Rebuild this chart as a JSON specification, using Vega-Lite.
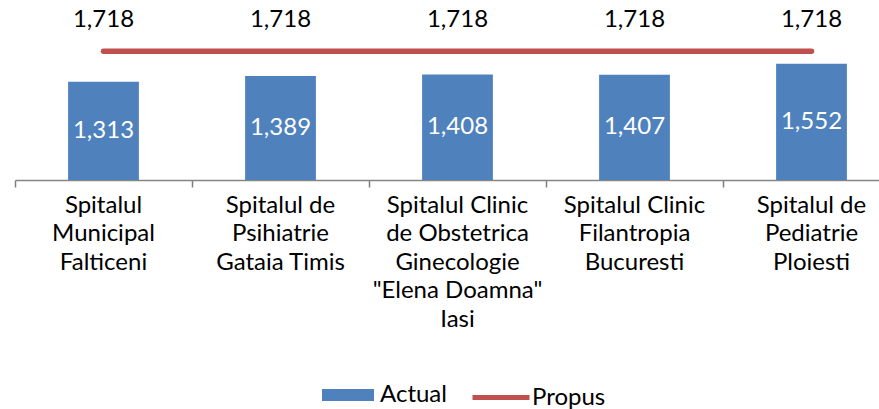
{
  "$schema": "https://vega.github.io/schema/vega-lite/v6.json",
  "width": 864,
  "height": 180,
  "autosize": {"type": "none"},
  "padding": {"left": 15, "top": 0, "right": 0, "bottom": 229},
  "config": {
    "view": {"stroke": null},
    "font": "Lato",
    "axis": {"labelFont": "Lato", "titleFont": "Lato"},
    "legend": {"labelFont": "Lato"}
  },
  "data": {
    "values": [
      {"spital": "Spitalul\nMunicipal\nFalticeni", "actual": 1313, "propus": 1718},
      {"spital": "Spitalul de\nPsihiatrie\nGataia Timis", "actual": 1389, "propus": 1718},
      {"spital": "Spitalul Clinic\nde Obstetrica\nGinecologie\n\"Elena Doamna\"\nIasi", "actual": 1408, "propus": 1718},
      {"spital": "Spitalul Clinic\nFilantropia\nBucuresti", "actual": 1407, "propus": 1718},
      {"spital": "Spitalul de\nPediatrie\nPloiesti", "actual": 1552, "propus": 1718}
    ]
  },
  "layer": [
    {
      "mark": {"type": "bar"},
      "encoding": {
        "x": {
          "field": "spital",
          "type": "nominal",
          "sort": null,
          "scale": {"range": [0, 885], "paddingInner": 0.6, "paddingOuter": 0.3},
          "axis": {
            "orient": "bottom",
            "title": null,
            "labelAngle": 0,
            "labelExpr": "datum.value ? split(datum.value, '\\n') : ''",
            "labelFontSize": 24,
            "labelColor": "#000000",
            "labelLineHeight": 28.5,
            "labelBaseline": "top",
            "labelPadding": 13,
            "labelLimit": 0,
            "ticks": false,
            "domain": false,
            "grid": false
          }
        },
        "y": {"field": "actual", "type": "quantitative", "scale": {"domain": [0, 2404], "nice": false}, "axis": null},
        "fill": {
          "datum": "Actual",
          "scale": {"range": ["#4F81BD"]},
          "legend": {
            "title": null,
            "orient": "none",
            "legendX": 307,
            "legendY": 369,
            "symbolType": "M-1,-0.23H1V0.23H-1Z",
            "symbolSize": 2704,
            "symbolStrokeWidth": 0,
            "labelFontSize": 24,
            "labelColor": "#000000",
            "labelOffset": 6
          }
        }
      }
    },
    {
      "mark": {"type": "line", "strokeWidth": 5.5, "strokeCap": "round"},
      "encoding": {
        "x": {
          "field": "spital",
          "type": "nominal",
          "sort": null,
          "axis": {
            "orient": "bottom",
            "title": null,
            "labels": false,
            "bandPosition": 0,
            "tickOffset": -53.1,
            "ticks": true,
            "tickSize": 7,
            "tickWidth": 1.5,
            "tickColor": "#7F7F7F",
            "domain": true,
            "domainColor": "#868686",
            "domainWidth": 1.5,
            "grid": false
          }
        },
        "y": {"field": "propus", "type": "quantitative", "scale": {"domain": [0, 2404], "nice": false}, "axis": null},
        "stroke": {
          "datum": "Propus",
          "scale": {"range": ["#C0504D"]},
          "legend": {
            "title": null,
            "orient": "none",
            "legendX": 455,
            "legendY": 366.5,
            "symbolType": "stroke",
            "symbolSize": 3249,
            "symbolStrokeWidth": 5,
            "labelFontSize": 24,
            "labelColor": "#000000",
            "labelOffset": 0
          }
        }
      }
    },
    {
      "mark": {"type": "text", "fontSize": 24, "color": "#000000", "dy": -31, "baseline": "middle"},
      "encoding": {
        "x": {"field": "spital", "type": "nominal", "sort": null, "axis": null},
        "y": {"field": "propus", "type": "quantitative", "scale": {"domain": [0, 2404], "nice": false}, "axis": null},
        "text": {"field": "propus", "type": "quantitative", "format": ","}
      }
    },
    {
      "mark": {"type": "text", "fontSize": 24, "color": "#FFFFFF", "baseline": "middle"},
      "encoding": {
        "x": {"field": "spital", "type": "nominal", "sort": null, "axis": null},
        "y": {"field": "actual", "type": "quantitative", "scale": {"domain": [0, 4808], "nice": false}, "axis": null},
        "text": {"field": "actual", "type": "quantitative", "format": ","}
      }
    }
  ],
  "resolve": {"scale": {"y": "independent", "fill": "independent", "stroke": "independent"}, "axis": {"x": "independent"}}
}
